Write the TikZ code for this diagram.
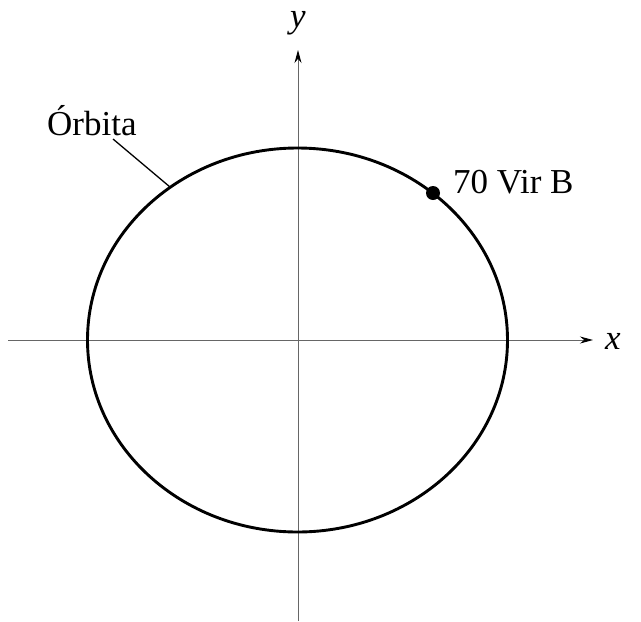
\documentclass[tikz,border=0pt]{standalone}
\usepackage{fontspec}
\setmainfont{Liberation Serif}
\usetikzlibrary{arrows.meta}
\begin{document}
\begin{tikzpicture}[x=1pt,y=1pt,
  axis/.style={draw=black!60, line width=0.9pt, -{Stealth[length=13pt,width=7pt,black]}},
  orbit/.style={draw=black, line width=2.9pt},
  lbl/.style={inner sep=0pt, font=\fontsize{35}{40}\selectfont},
  planet/.style={circle, fill=black, minimum size=14pt, inner sep=0pt},
  leader/.style={draw=black, line width=1.3pt}]
\useasboundingbox (0,0) rectangle (641,-622);
\coordinate (xstart) at (8,-340);
\coordinate (xend) at (593,-340);
\coordinate (ystart) at (298,-621);
\coordinate (yend) at (298,-50);
\draw[axis] (xstart) -- (xend);
\draw[axis] (ystart) -- (yend);
\coordinate (c) at (297.5,-340);
\draw[orbit] (c) ellipse [x radius=210, y radius=192];
\node[planet] (dot) at (433,-193) {};
\node[lbl, anchor=base west] (vir) at (453,-193) {70 Vir B};
\node[lbl, anchor=base west] (orb) at (47,-135) {Órbita};
\coordinate (ls) at (113,-139);
\coordinate (le) at (170,-187);
\draw[leader] (ls) -- (le);
\node[lbl, anchor=base] (ylab) at (298,-27) {\textit{y}};
\node[lbl, anchor=base] (xlab) at (613,-349) {\textit{x}};
\end{tikzpicture}
\end{document}
